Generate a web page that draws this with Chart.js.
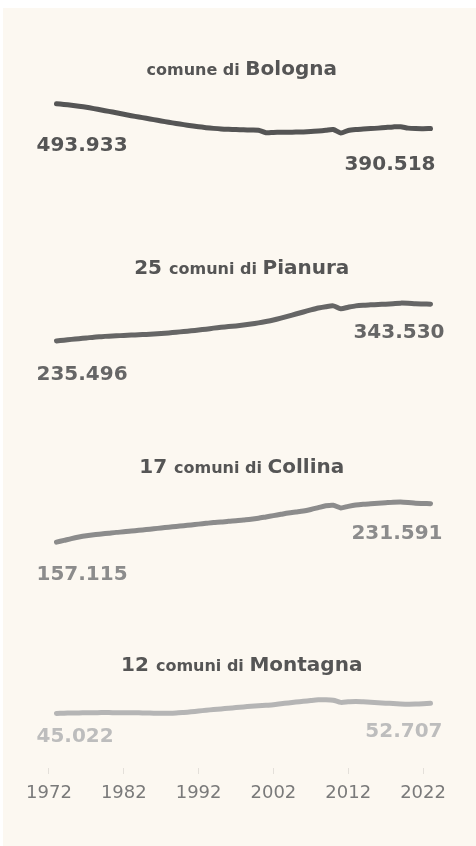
<!DOCTYPE html>
<html>
<head>
<meta charset="utf-8">
<script src="https://cdn.jsdelivr.net/npm/chart.js@4.4.1/dist/chart.umd.min.js"></script>
<style>
  html, body { margin: 0; padding: 0; background: #fff; }
  #panel { position: absolute; left: 3px; top: 8px; right: 0; bottom: 0; background: #fcf8f1; }
  #wrap { position: absolute; left: 0; top: 0; width: 476px; height: 846px; }
</style>
</head>
<body>
<div id="panel"></div>
<div id="wrap"><canvas id="chart" width="476" height="846"></canvas></div>
<script>
// anni (popolazione al 1 gennaio)
const years = [1973, 1974, 1975, 1976, 1977, 1978, 1979, 1980, 1981, 1982,
    1983, 1984, 1985, 1986, 1987, 1988, 1989, 1990, 1991, 1992,
    1993, 1994, 1995, 1996, 1997, 1998, 1999, 2000, 2001, 2002,
    2003, 2004, 2005, 2006, 2007, 2008, 2009, 2010, 2011, 2012,
    2013, 2014, 2015, 2016, 2017, 2018, 2019, 2020, 2021, 2022, 2023];
const tickYears = [1972, 1982, 1992, 2002, 2012, 2022];

const bologna = [493933, 491000, 487500, 483500, 479000, 473500, 467500, 462000, 456000, 450000,
    444000, 438500, 433000, 427500, 422000, 416500, 411500, 406500, 402000, 397500,
    394000, 391000, 388500, 387000, 386000, 385000, 384000, 383000, 373000, 374000,
    374500, 375000, 375500, 376000, 377500, 380000, 383000, 386000, 372000, 382000,
    386000, 388000, 390000, 392000, 394500, 397000, 398000, 392000, 390000, 389500, 390518];
const pianura = [235496, 237500, 240000, 242000, 244000, 246500, 248000, 249500, 250500, 251500,
    252500, 253500, 254500, 256000, 257500, 259000, 261000, 263000, 265000, 267500,
    270000, 273000, 275500, 277500, 279500, 282000, 285000, 288500, 292500, 297000,
    302500, 308500, 314500, 320500, 326500, 332000, 336000, 338500, 330000, 334500,
    338500, 340500, 341500, 342500, 343500, 345000, 346500, 346000, 344500, 344000, 343530];
const collina = [157115, 160500, 164000, 167000, 169500, 171500, 173000, 174500, 176000, 177000,
    178500, 180000, 181500, 183000, 184500, 186000, 187500, 189000, 190500, 192000,
    193500, 195000, 196000, 197500, 198500, 200000, 201500, 203500, 206000, 208500,
    211000, 213500, 215500, 217500, 220500, 224000, 227500, 228500, 223500, 226500,
    229000, 230500, 231500, 232500, 233500, 234500, 235000, 234000, 232500, 232000, 231591];
const montagna = [45022, 45150, 45300, 45400, 45500, 45550, 45600, 45600, 45550, 45550,
    45550, 45450, 45300, 45150, 45050, 45050, 45250, 45700, 46200, 46800,
    47400, 47900, 48400, 48900, 49400, 49900, 50300, 50700, 51100, 51500,
    52200, 52900, 53500, 54100, 54700, 55200, 55300, 54900, 53300, 53700,
    54000, 53700, 53300, 53000, 52700, 52400, 52100, 51900, 52000, 52300, 52707];

const areaNames = ["Bologna", "Pianura", "Collina", "Montagna"];
const comuniCount = [null, 25, 17, 12];

function fmt(v) {
    return String(v).replace(/\B(?=(\d{3})+(?!\d))/g, ".");
}

function series(values, name, axis, color, labelColor, pos) {
    return {
        label: name,
        data: years.map((y, i) => ({ x: y, y: values[i] })),
        yAxisID: axis,
        borderColor: color,
        borderWidth: 5,
        borderCapStyle: "round",
        borderJoinStyle: "round",
        pointRadius: 0,
        tension: 0.25,
        labelColor: labelColor,
        labelPos: pos
    };
}

const panelLabels = {
    id: "panelLabels",
    afterDatasetsDraw(chart) {
        const ctx = chart.ctx;
        const area = chart.chartArea;
        const cx = (area.left + area.right) / 2 + 2;
        chart.data.datasets.forEach((ds, i) => {
            const pts = chart.getDatasetMeta(i).data;
            const first = pts[0];
            const last = pts[pts.length - 1];
            const top = Math.min(...pts.map(p => p.y));

            // titolo: "25 comuni di Pianura"
            const parts = [];
            if (comuniCount[i] !== null) parts.push({ t: comuniCount[i] + " ", f: "bold 20px 'DejaVu Sans'" });
            parts.push({ t: (comuniCount[i] === null ? "comune di " : "comuni di "), f: "bold 16px 'DejaVu Sans'" });
            parts.push({ t: areaNames[i], f: "bold 20px 'DejaVu Sans'" });
            let w = 0;
            parts.forEach(p => { ctx.font = p.f; p.w = ctx.measureText(p.t).width; w += p.w; });
            let x = cx - w / 2;
            ctx.save();
            ctx.fillStyle = "#555555";
            ctx.textBaseline = "alphabetic";
            ctx.textAlign = "left";
            parts.forEach(p => { ctx.font = p.f; ctx.fillText(p.t, x, top - 29); x += p.w; });

            // valori iniziale e finale
            const pos = ds.labelPos;
            ctx.font = "bold 20px 'DejaVu Sans'";
            ctx.fillStyle = ds.labelColor;
            ctx.textAlign = "left";
            ctx.fillText(fmt(ds.data[0].y), first.x - 20, first.y + pos.startDy);
            ctx.textAlign = "right";
            ctx.fillText(fmt(ds.data[ds.data.length - 1].y), last.x + pos.endDx, last.y + pos.endDy);
            ctx.restore();
        });
    }
};

const ctx = document.getElementById("chart").getContext("2d");
new Chart(ctx, {
    type: "line",
    data: {
        datasets: [
            series(bologna, "comune di Bologna", "yB", "#555555", "#555555", { startDy: 47, endDx: 5, endDy: 42 }),
            series(pianura, "25 comuni di Pianura", "yP", "#666666", "#666666", { startDy: 39, endDx: 14, endDy: 34 }),
            series(collina, "17 comuni di Collina", "yC", "#8c8c8c", "#8c8c8c", { startDy: 38, endDx: 12, endDy: 35 }),
            series(montagna, "12 comuni di Montagna", "yM", "#b5b5b5", "#bdbdbd", { startDy: 29, endDx: 12, endDy: 34 })
        ]
    },
    options: {
        responsive: false,
        animation: false,
        devicePixelRatio: 1,
        layout: { padding: { left: 41.5, right: 38, top: 40, bottom: 32.4 } },
        plugins: { legend: { display: false }, tooltip: { enabled: false } },
        scales: {
            x: {
                type: "linear",
                min: 1971,
                max: 2024,
                afterBuildTicks: s => { s.ticks = tickYears.map(v => ({ value: v })); },
                ticks: {
                    callback: v => String(v),
                    font: { family: "DejaVu Sans", size: 18 },
                    color: "#7a7a7a",
                    padding: 9,
                    maxRotation: 0,
                    autoSkip: false
                },
                grid: { drawOnChartArea: false, drawTicks: true, tickLength: 6, color: "#e4e0da" },
                border: { display: false }
            },
            yB: { display: false, stack: "rows", stackWeight: 1, weight: 4, min: 0, max: 760000 },
            yP: { display: false, stack: "rows", stackWeight: 1, weight: 3, min: 50000, max: 585000 },
            yC: { display: false, stack: "rows", stackWeight: 1, weight: 2, min: 72000, max: 425000 },
            yM: { display: false, stack: "rows", stackWeight: 1, weight: 1, min: 4000, max: 140700 }
        }
    },
    plugins: [panelLabels]
});
</script>
</body>
</html>
